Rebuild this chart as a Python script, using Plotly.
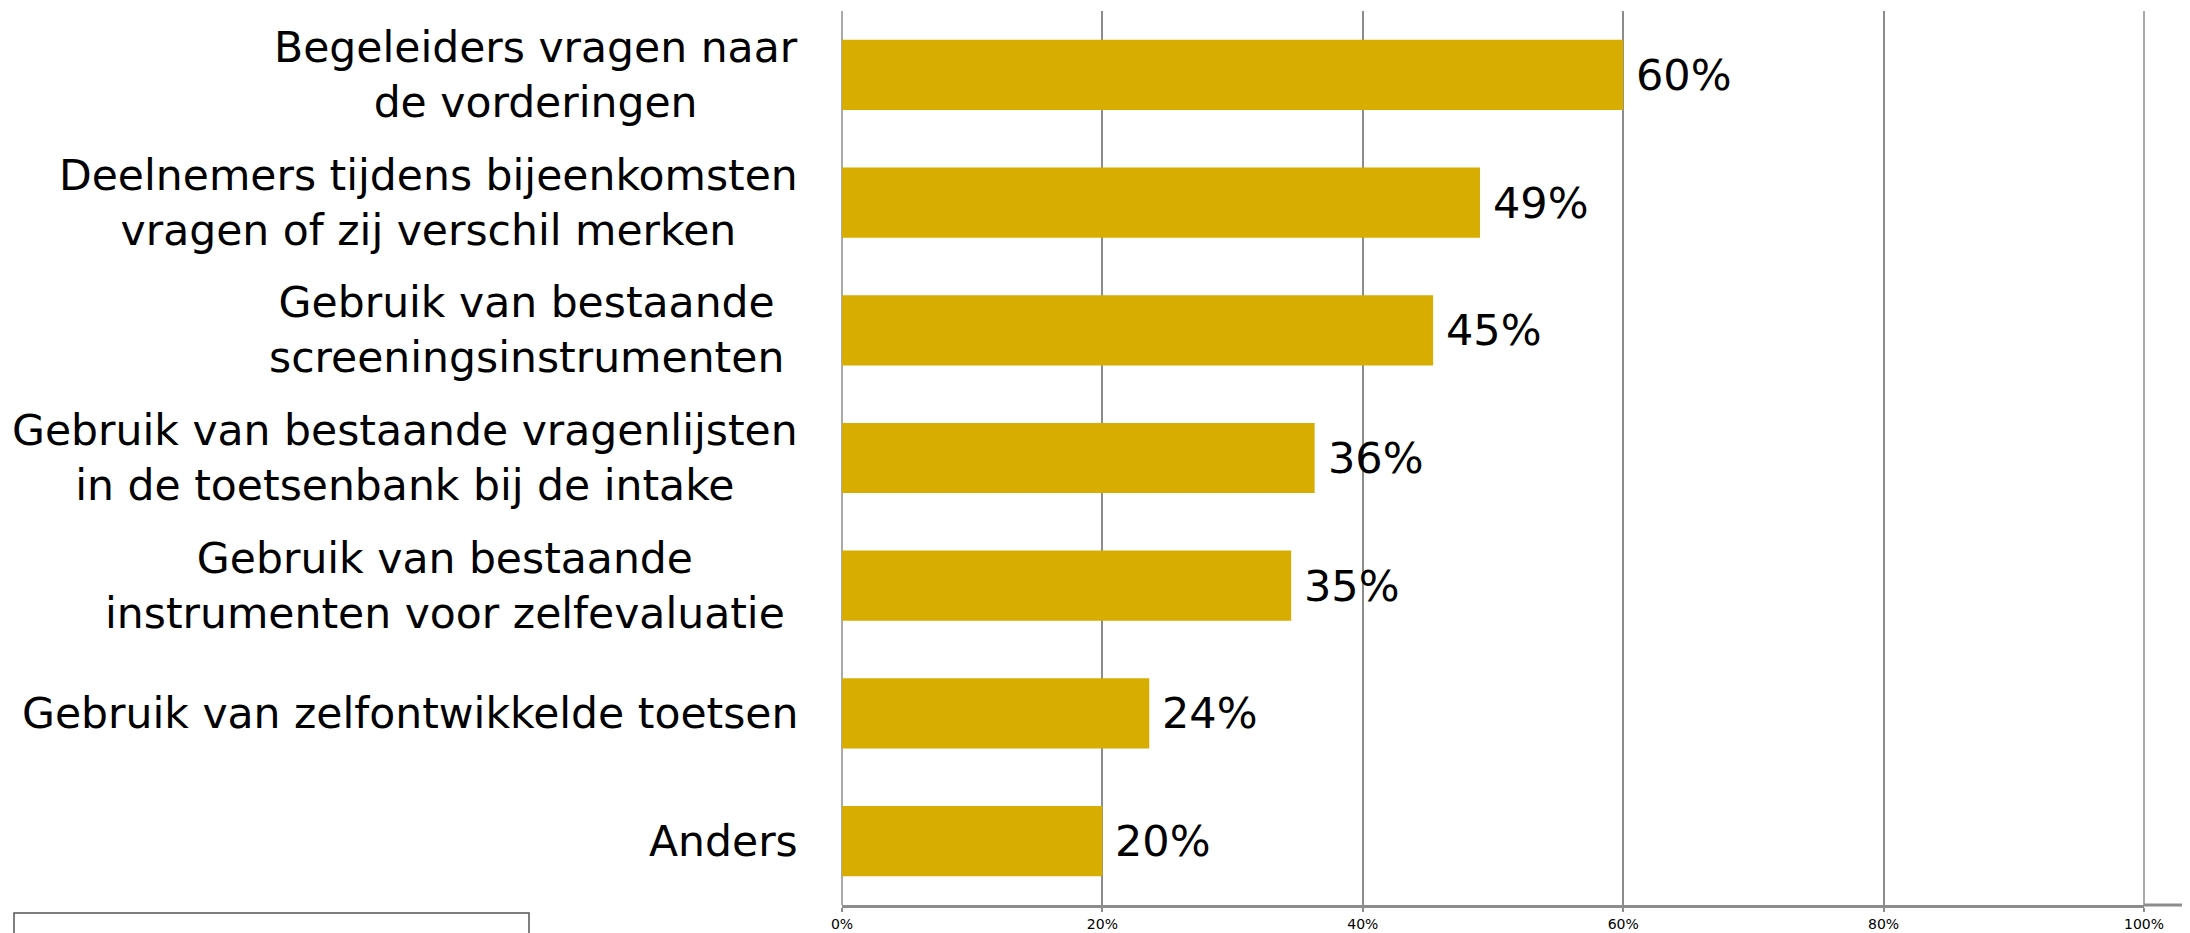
import plotly.graph_objects as go

categories = [
    "Begeleiders vragen naar<br>de vorderingen",
    "Deelnemers tijdens bijeenkomsten<br>vragen of zij verschil merken",
    "Gebruik van bestaande\u00a0<br>screeningsinstrumenten\u00a0",
    "Gebruik van bestaande vragenlijsten<br>in de toetsenbank bij de intake",
    "Gebruik van bestaande\u00a0<br>instrumenten voor zelfevaluatie\u00a0",
    "Gebruik van zelfontwikkelde toetsen",
    "Anders",
]
values = [0.60, 0.49, 0.454, 0.363, 0.345, 0.236, 0.20]
value_labels = ["60%", "49%", "45%", "36%", "35%", "24%", "20%"]
tick_vals = [0, 0.2, 0.4, 0.6, 0.8, 1.0]
tick_text = ["0%", "20%", "40%", "60%", "80%", "100%"]

W, H = 2190, 933
OFF = 8  # default body margin of the html page
ML, MR, MT, MB = 834, 54, 3, 36
BAR_COLOR = "#D6AD00"
GRID = "#8C8C8C"

fig = go.Figure(go.Bar(
    x=values, y=categories, orientation="h",
    marker=dict(color=BAR_COLOR, line=dict(width=0)),
    width=0.55, hoverinfo="skip",
))

annotations = []
for c, v, t in zip(categories, values, value_labels):
    annotations.append(dict(
        x=v, y=c, xref="x", yref="y", text=t, showarrow=False,
        xanchor="left", yanchor="middle", xshift=11,
        font=dict(family="DejaVu Sans", size=43, color="#000000"),
    ))
    annotations.append(dict(
        x=0, y=c, xref="paper", yref="y", text=c, showarrow=False,
        xanchor="right", yanchor="middle", align="center", xshift=-42,
        font=dict(family="DejaVu Sans", size=42.5, color="#000000"),
    ))

pw = W - ML - MR
ph = H - MT - MB
def px(xp):
    return (xp - OFF - ML) / pw
def py(yp):
    return (OFF + H - MB - yp) / ph

fig.update_layout(
    width=W, height=H,
    margin=dict(l=ML, r=MR, t=MT, b=MB, pad=0, autoexpand=False),
    paper_bgcolor="white", plot_bgcolor="white",
    showlegend=False,
    bargap=0.45,
    annotations=annotations,
    shapes=[
        dict(type="rect", xref="paper", yref="paper",
             x0=px(14), x1=px(529), y0=py(950), y1=py(913),
             line=dict(color="#555555", width=1.5), fillcolor="rgba(0,0,0,0)"),
        dict(type="line", xref="paper", yref="paper",
             x0=1, x1=px(2200), y0=0, y1=0,
             line=dict(color=GRID, width=3)),
        dict(type="line", xref="paper", yref="paper", x0=0, x1=0, y0=0, y1=1,
             line=dict(color=GRID, width=1.5), layer="below"),
        dict(type="line", xref="paper", yref="paper", x0=1, x1=1, y0=0, y1=1,
             line=dict(color=GRID, width=1.5), layer="below"),
    ],
    xaxis=dict(
        range=[0, 1], tickvals=tick_vals, ticktext=tick_text,
        showgrid=True, gridcolor=GRID, gridwidth=1.5,
        showline=True, linecolor=GRID, linewidth=3,
        ticks="outside", ticklen=4, tickcolor=GRID, tickwidth=1.5,
        ticklabelstandoff=0, automargin=False,
        tickfont=dict(family="DejaVu Sans", size=14, color="#000000"),
        zeroline=False, fixedrange=True,
    ),
    yaxis=dict(
        categoryorder="array", categoryarray=categories[::-1],
        showticklabels=False, showgrid=False, zeroline=False,
        showline=False, ticks="", fixedrange=True, automargin=False,
    ),
)

fig.write_html("out.html")
